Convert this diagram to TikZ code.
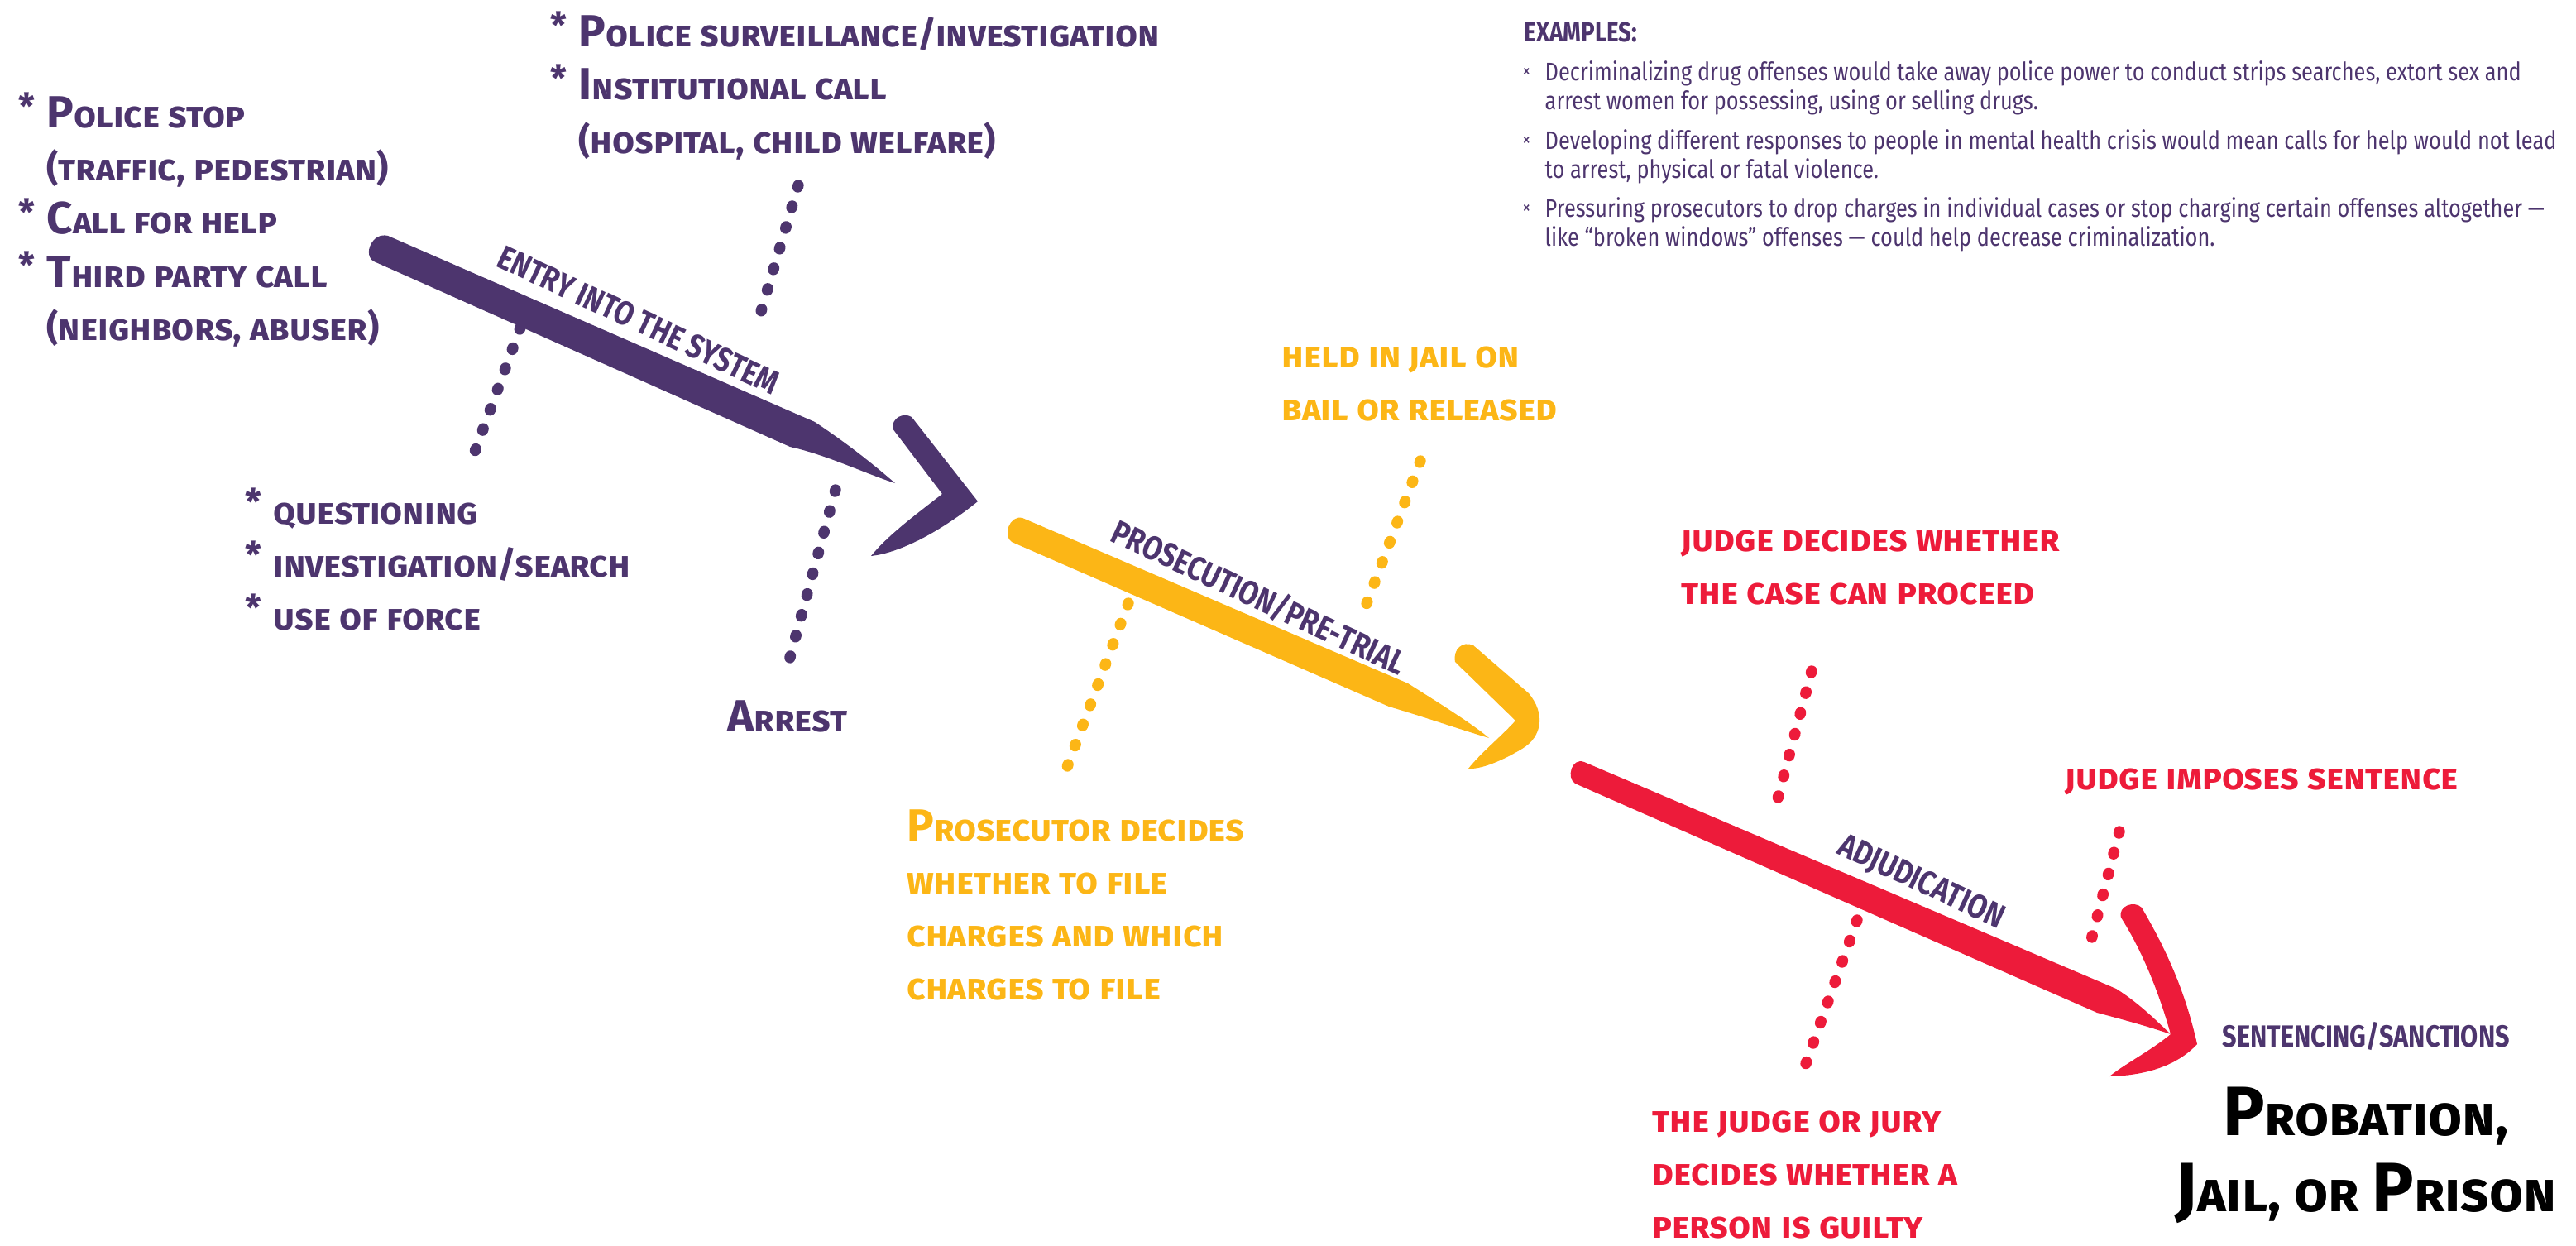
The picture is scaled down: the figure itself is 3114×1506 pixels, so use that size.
\documentclass[tikz,border=0pt]{standalone}
\usepackage{fontspec}
\setmainfont{Fira Sans}
\newfontfamily\condfont[FakeStretch=0.83]{Fira Sans}
\newfontfamily\handfont[Letters=SmallCaps]{Fira Sans}
\definecolor{jpurple}{RGB}{77,53,110}
\definecolor{jyellow}{RGB}{252,182,22}
\definecolor{jred}{RGB}{237,27,58}
\newcommand{\hc}[1]{{\fontsize{15.5}{18.2}\selectfont #1}}
\newcommand{\hs}{\llap{\raisebox{3pt}{*}\hspace{4pt}}}
\newcommand{\xb}{\llap{{\fontsize{6.5}{7}\selectfont\raisebox{1.2pt}{×}}\hspace{5pt}}}
\begin{document}
\begin{tikzpicture}[x=0.01cm,y=-0.01cm,
  hand/.style={font=\handfont\bfseries\fontsize{12.5}{18.2}\selectfont, align=left, anchor=base west, inner sep=0pt},
  stage/.style={font=\condfont\bfseries\fontsize{11.5}{13}\selectfont, text=jpurple, rotate=-25, inner sep=0pt},
  dots/.style={line width=3.8pt, line cap=round, dash pattern=on 0.6pt off 6.8pt},
  note/.style={font=\condfont\fontsize{8.7}{9.7}\selectfont, text=jpurple, align=left, anchor=base west, inner sep=0pt}]
\useasboundingbox (0,0) rectangle (3114,1506);

\fill[jpurple] (469,285) -- (985,510) .. controls (1030,540) and (1060,565) .. (1082,584)
  .. controls (1045,572) and (1000,550) .. (955,540) -- (452,316) .. controls (438,308) and (450,280) .. (469,285) -- cycle;
\fill[jpurple] (1079,518) .. controls (1078,505) and (1092,498) .. (1102,504) -- (1182,606)
  .. controls (1140,640) and (1090,668) .. (1053,672) .. controls (1075,645) and (1110,620) .. (1139,597) -- cycle;

\fill[jyellow] (1236,626) -- (1702,826) .. controls (1740,850) and (1780,875) .. (1800,892)
  .. controls (1760,880) and (1720,866) .. (1679,854) -- (1223,655) .. controls (1212,648) and (1220,622) .. (1236,626) -- cycle;
\fill[jyellow] (1759,800) .. controls (1756,785) and (1768,774) .. (1781,780) -- (1848,838)
  .. controls (1868,862) and (1865,890) .. (1840,905) .. controls (1815,920) and (1790,930) .. (1775,929)
  .. controls (1790,910) and (1815,890) .. (1832,871) -- cycle;

\fill[jred] (1915,921) -- (2558,1195) .. controls (2585,1212) and (2605,1232) .. (2624,1250)
  .. controls (2595,1240) and (2565,1232) .. (2535,1224) -- (1904,947) .. controls (1893,940) and (1900,915) .. (1915,921) -- cycle;
\fill[jred] (2564,1109) .. controls (2560,1095) and (2580,1088) .. (2589,1097) .. controls (2620,1150) and (2642,1200) .. (2656,1262)
  .. controls (2630,1290) and (2590,1300) .. (2550,1301) .. controls (2570,1285) and (2600,1270) .. (2624,1250)
  .. controls (2610,1200) and (2590,1150) .. (2564,1109) -- cycle;

\node[stage] (entry) at (772,387) {ENTRY INTO THE SYSTEM};
\node[stage] (prosec) at (1522,722) {PROSECUTION/PRE-TRIAL};
\node[stage] (adjud) at (2322,1067) {ADJUDICATION};

\draw[dots, jpurple] (965,224) -- (916,390);
\draw[dots, jpurple] (629,396) -- (571,554);
\draw[dots, jpurple] (1010,592) -- (950,813);
\draw[dots, jyellow] (1364,729) -- (1290,927);
\draw[dots, jyellow] (1717,557) -- (1650,735);
\draw[dots, jred] (2190,811) -- (2144,984);
\draw[dots, jred] (2245,1112) -- (2180,1294);
\draw[dots, jred] (2562,1005) -- (2523,1155);

\node[hand, text=jpurple] (stops) at (56,411) {\hs\hc{P}olice stop\\(traffic, pedestrian)\\\hs\hc{C}all for help\\\hs\hc{T}hird party call\\(neighbors, abuser)};
\node[hand, text=jpurple] (survey) at (699,185) {\hs\hc{P}olice surveillance/investigation\\\hs\hc{I}nstitutional call\\(hospital, child welfare)};
\node[hand, text=jpurple] (search) at (330,761) {\hs questioning\\\hs investigation/search\\\hs use of force};
\node[hand, text=jpurple, anchor=base] (arrest) at (952,884) {\hc{A}rrest};

\node[hand, text=jyellow] (bail) at (1549,508) {held in jail on\\bail or released};
\node[hand, text=jyellow] (charge) at (1096,1208) {\hc{P}rosecutor decides\\whether to file\\charges and which\\charges to file};

\node[hand, text=jred] (proceed) at (2032,730) {judge decides whether\\the case can proceed};
\node[hand, text=jred] (impose) at (2496,954) {judge imposes sentence};
\node[hand, text=jred] (guilty) at (1997,1496) {the judge or jury\\decides whether a\\person is guilty};

\node[font=\condfont\bfseries\fontsize{10.5}{12}\selectfont, text=jpurple, anchor=base west, inner sep=0pt] (sanct) at (2686,1265) {SENTENCING/SANCTIONS};
\node[font=\handfont\bfseries\fontsize{19}{26}\selectfont, align=center, anchor=base, inner sep=0pt] (prison) at (2860,1464) {\hc{\fontsize{24}{26}\selectfont P}robation,\\\hc{\fontsize{24}{26}\selectfont J}ail, or \hc{\fontsize{24}{26}\selectfont P}rison};

\node[font=\condfont\bfseries\fontsize{9.5}{10}\selectfont, text=jpurple, anchor=base west, inner sep=0pt] (exhead) at (1842,51) {EXAMPLES:};
\node[note] (ex1) at (1867,132) {\xb Decriminalizing drug offenses would take away police power to conduct strips searches, extort sex and\\arrest women for possessing, using or selling drugs.};
\node[note] (ex2) at (1867,215) {\xb Developing different responses to people in mental health crisis would mean calls for help would not lead\\to arrest, physical or fatal violence.};
\node[note] (ex3) at (1867,297) {\xb Pressuring prosecutors to drop charges in individual cases or stop charging certain offenses altogether —\\like “broken windows” offenses — could help decrease criminalization.};
\end{tikzpicture}
\end{document}
